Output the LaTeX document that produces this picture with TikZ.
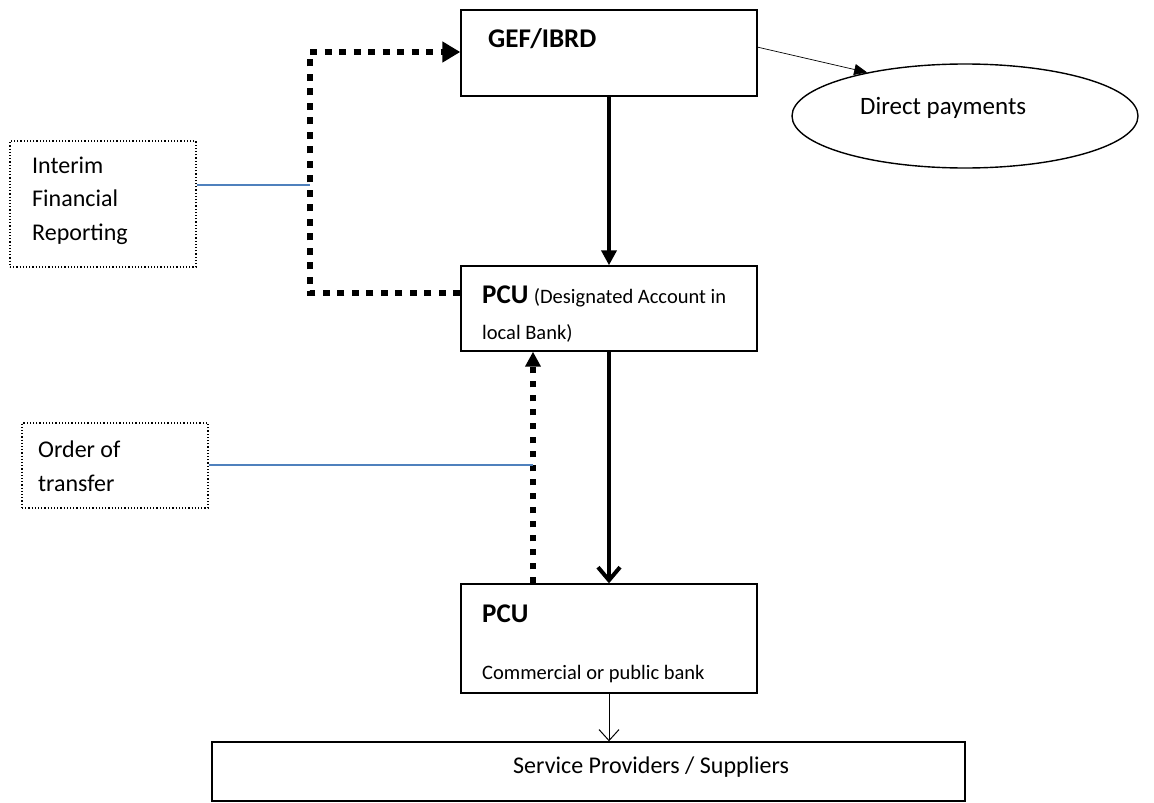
\documentclass[tikz,border=0pt]{standalone}
\usepackage{fontspec}
\setmainfont{Carlito}
\usetikzlibrary{arrows.meta,shapes.geometric}
\definecolor{lnblue}{RGB}{79,129,189}
\newcommand{\regtx}{\fontsize{24}{28}\selectfont}
\newcommand{\smtx}{\fontsize{20.5}{24}\selectfont}
\newcommand{\bigb}{\fontsize{27}{30}\selectfont\bfseries}
\begin{document}
\begin{tikzpicture}[x=1pt,y=-1pt,
  box/.style={draw,line width=1.4pt,inner sep=0pt,rectangle},
  dbox/.style={draw,line width=1.2pt,dotted,inner sep=0pt,rectangle},
  txt/.style={inner sep=0pt,anchor=base west,font=\regtx},
  dotline/.style={line width=6pt,dash pattern=on 7pt off 7.5pt},
  dotline2/.style={line width=5.5pt,dash pattern=on 6pt off 8pt},
  solidarrow/.style={line width=4pt},
  blueln/.style={draw=lnblue,line width=1.5pt}]
\useasboundingbox[fill=white] (0,0) rectangle (1154,803);

% boxes
\node[box,minimum width=296pt,minimum height=86pt] (gef) at (609,53) {};
\node[box,minimum width=296pt,minimum height=85pt] (pcua) at (609,308.5) {};
\node[box,minimum width=296pt,minimum height=109pt] (pcub) at (609,638.5) {};
\node[dbox,minimum width=186pt,minimum height=126pt] (ifr) at (103,204) {};
\node[dbox,minimum width=186pt,minimum height=85pt] (ord) at (115,465.5) {};
\node[box,minimum width=753pt,minimum height=59pt] (sp) at (588.5,771.5) {};
\node[draw,line width=1.4pt,ellipse,inner sep=0pt,minimum width=346pt,minimum height=104pt] (dp) at (965,116) {};

% texts
\node[txt] (gefT) at (488,47) {\bigb GEF/IBRD};
\node[txt] (pcuaT) at (482,303) {{\bigb PCU} {\smtx (Designated Account in}};
\node[txt] (pcuaT2) at (482,339) {\smtx local Bank)};
\node[txt] (pcubT) at (482,622) {\bigb PCU};
\node[txt] (pcubT2) at (482,679) {\smtx Commercial or public bank};
\node[txt] (ifrT1) at (32,173) {Interim};
\node[txt] (ifrT2) at (32,206) {Financial};
\node[txt] (ifrT3) at (32,240) {Reporting};
\node[txt] (ordT1) at (38,457) {Order of};
\node[txt] (ordT2) at (38,491) {transfer};
\node[txt] (spT) at (513,773) {Service Providers / Suppliers};
\node[txt,font=\fontsize{25}{28}\selectfont] (dpT) at (860,114) {Direct payments};

% coordinates
\coordinate (c1) at (310,293);
\coordinate (c2) at (310,52);
\coordinate (b1) at (310,185);
\coordinate (b2) at (533,465);
\coordinate (ds) at (757,47);

% dotted reporting path
\draw[dotline,-{Triangle[length=18pt,width=20pt]}] (pcua.west |- c1) -- (c1) -- (c2) -- (gef.west |- c2);
% dotted order arrow
\draw[dotline2,-{Triangle[length=15pt,width=15pt]}] (pcub.north -| b2) -- (pcua.south -| b2);
% blue lines
\draw[blueln] (ifr.east |- b1) -- (b1);
\draw[blueln] (ord.east |- b2) -- (b2);
% solid arrows
\draw[solidarrow,-{Triangle[length=15pt,width=15pt]}] (gef.south) -- (pcua.north);
\draw[solidarrow,-{Straight Barb[length=13pt,width=22pt,line width=4pt]}] (pcua.south) -- (pcub.north);
\draw[line width=1pt,-{Straight Barb[length=11pt,width=20pt,line width=1pt]}] (pcub.south) -- (pcub.south |- sp.north);
% direct payments
\draw[line width=0.7pt,-{Triangle[length=13pt,width=11pt]}] (ds) -- (dp.156);
\end{tikzpicture}
\end{document}
